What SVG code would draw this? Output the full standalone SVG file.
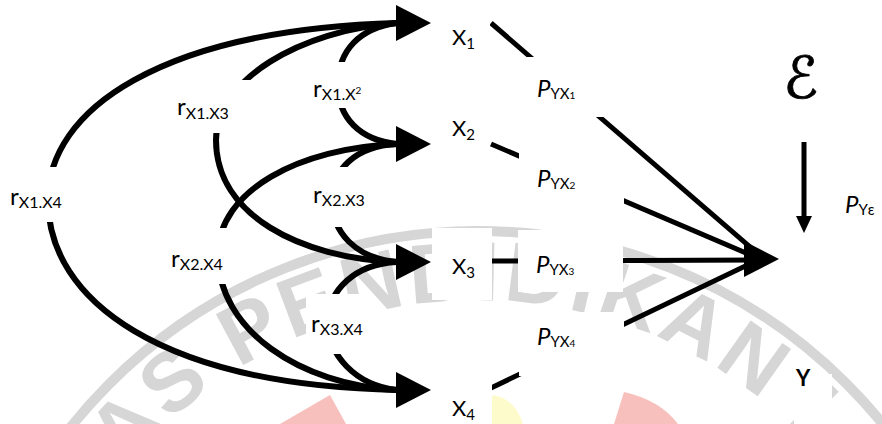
<svg xmlns="http://www.w3.org/2000/svg" width="882" height="424" viewBox="0 0 882 424">
  <defs>
    <style>
      .lbl{font-family:Lato,"Liberation Sans",sans-serif;font-size:22px;fill:#000}
      .r{font-size:24px}
      .it{font-style:italic}
      .curve{fill:none;stroke:#000;stroke-width:6}
      .line{fill:none;stroke:#000;stroke-width:5}
      .box{fill:#fff}
      .wm{fill:#d6d6d6}
    </style>
    <polygon id="head" points="0,-18 35,0 0,18"/>
    <path id="wmArc" d="M 86.6,526 A 452 452 0 0 1 902.7,597.4"/>
  </defs>

  <rect width="882" height="424" fill="#fff"/>

  <!-- faint seal in the background -->
  <g id="watermark">
    <circle cx="478" cy="752" r="521" fill="none" stroke="#d6d6d6" stroke-width="10"/>
    <text class="wm" font-family="'Liberation Sans',sans-serif" font-weight="bold" font-size="84" letter-spacing="4"><textPath href="#wmArc" startOffset="69">AS PENDIDIKAN I</textPath></text>
    <path d="M 492,395 Q 515,398 523,424 L 492,424 Z" fill="#fdfbcc"/>
    <polygon points="330,395 346,424 280,424" fill="#f8c0bc"/>
    <path d="M 614,424 L 624,392 Q 660,400 678,424 Z" fill="#f8c0bc"/>
  </g>

  <g id="connectors">
    <!-- correlation arcs -->
    <path class="curve" d="M 397,23 C 160,30 48,110 48,200 C 48,300 160,385 397,390"/>
    <path class="curve" d="M 397,23 C 300,30 216,80 216,140 C 216,215 300,258 397,262"/>
    <path class="curve" d="M 397,23 C 360,28 338,50 338,85 C 338,118 360,140 397,144"/>
    <path class="curve" d="M 397,144 C 355,146 332,170 332,200 C 332,232 355,258 397,262"/>
    <path class="curve" d="M 397,144 C 300,148 218,190 218,255 C 218,330 300,385 397,390"/>
    <path class="curve" d="M 397,262 C 355,264 328,290 328,322 C 328,355 355,385 397,390"/>
    <use href="#head" x="396" y="23"/>
    <use href="#head" x="396" y="144"/>
    <use href="#head" x="396" y="262"/>
    <use href="#head" x="396" y="390"/>
    <!-- paths to Y -->
    <line class="line" x1="491" y1="23" x2="764" y2="259"/>
    <line class="line" x1="491" y1="144" x2="760" y2="259"/>
    <line class="line" x1="491" y1="261" x2="760" y2="260"/>
    <line class="line" x1="491" y1="388" x2="760" y2="259"/>
    <polygon points="744,241 779,259 744,277"/>
    <!-- residual path -->
    <line x1="804" y1="142" x2="804" y2="218" stroke="#000" stroke-width="5"/>
    <polygon points="796,216 812,216 804,233"/>
  </g>

  <g id="rX1X4">
    <rect class="box" x="0" y="167" width="100" height="55"/>
    <text class="lbl" x="10" y="205"><tspan class="r">r</tspan><tspan font-size="16" dy="3">X1.X4</tspan></text>
  </g>
  <g id="rX1X3">
    <rect class="box" x="160" y="80" width="98" height="53"/>
    <text class="lbl" x="177" y="115"><tspan class="r">r</tspan><tspan font-size="16" dy="4">X1.X3</tspan></text>
  </g>
  <g id="rX1X2">
    <rect class="box" x="306" y="62" width="66" height="46"/>
    <text class="lbl" x="313" y="97"><tspan class="r">r</tspan><tspan font-size="16" dy="3">X1.X</tspan><tspan font-size="10" dy="-6">2</tspan></text>
  </g>
  <g id="rX2X3">
    <rect class="box" x="306" y="167" width="66" height="60"/>
    <text class="lbl" x="313" y="203"><tspan class="r">r</tspan><tspan font-size="16" dy="3">X2.X3</tspan></text>
  </g>
  <g id="rX2X4">
    <rect class="box" x="163" y="228" width="69" height="56"/>
    <text class="lbl" x="171" y="267"><tspan class="r">r</tspan><tspan font-size="16" dy="3">X2.X4</tspan></text>
  </g>
  <g id="rX3X4">
    <rect class="box" x="306" y="294" width="66" height="60"/>
    <text class="lbl" x="311" y="332"><tspan class="r">r</tspan><tspan font-size="16" dy="3">X3.X4</tspan></text>
  </g>

  <g id="pYX1">
    <rect class="box" x="519" y="57" width="105" height="60"/>
    <text class="lbl" x="537" y="97"><tspan class="it" font-size="24">P</tspan><tspan font-size="15" dy="2">YX</tspan><tspan font-size="10">1</tspan></text>
  </g>
  <g id="pYX2">
    <rect class="box" x="519" y="148" width="105" height="57"/>
    <text class="lbl" x="537" y="187"><tspan class="it" font-size="24">P</tspan><tspan font-size="15" dy="2">YX</tspan><tspan font-size="10">2</tspan></text>
  </g>
  <g id="pYX3">
    <rect class="box" x="518" y="230" width="105" height="62"/>
    <text class="lbl" x="536" y="273"><tspan class="it" font-size="24">P</tspan><tspan font-size="15" dy="2">YX</tspan><tspan font-size="10">3</tspan></text>
  </g>
  <g id="pYX4">
    <rect class="box" x="519" y="312" width="105" height="64"/>
    <text class="lbl" x="537" y="345"><tspan class="it" font-size="24">P</tspan><tspan font-size="15" dy="2">YX</tspan><tspan font-size="10">4</tspan></text>
  </g>

  <g id="X1">
    <rect class="box" x="432" y="5" width="58" height="50"/>
    <text class="lbl" x="452" y="45">X<tspan font-size="15" dy="4">1</tspan></text>
  </g>
  <g id="X2">
    <rect class="box" x="432" y="110" width="58" height="50"/>
    <text class="lbl" x="452" y="136">X<tspan font-size="15" dy="4">2</tspan></text>
  </g>
  <g id="X3">
    <rect class="box" x="432" y="228" width="60" height="72"/>
    <text class="lbl" x="452" y="274">X<tspan font-size="15" dy="4">3</tspan></text>
  </g>
  <g id="X4">
    <rect class="box" x="432" y="360" width="60" height="64"/>
    <text class="lbl" x="452" y="416">X<tspan font-size="15" dy="4">4</tspan></text>
  </g>

  <g id="Y">
    <rect class="box" x="794" y="374" width="38" height="50"/>
    <text class="lbl" x="796" y="386" font-size="16" font-weight="bold">Y</text>
  </g>
  <g id="epsilon">
    <text x="783" y="98" font-family="'DejaVu Serif','DejaVu Sans',serif" font-size="58" fill="#000" stroke="#000" stroke-width="0.8">ℰ</text>
  </g>
  <g id="pYe">
    <text class="lbl" x="845" y="213"><tspan class="it" font-size="24">P</tspan><tspan font-size="15" dy="2">Yε</tspan></text>
  </g>
</svg>
